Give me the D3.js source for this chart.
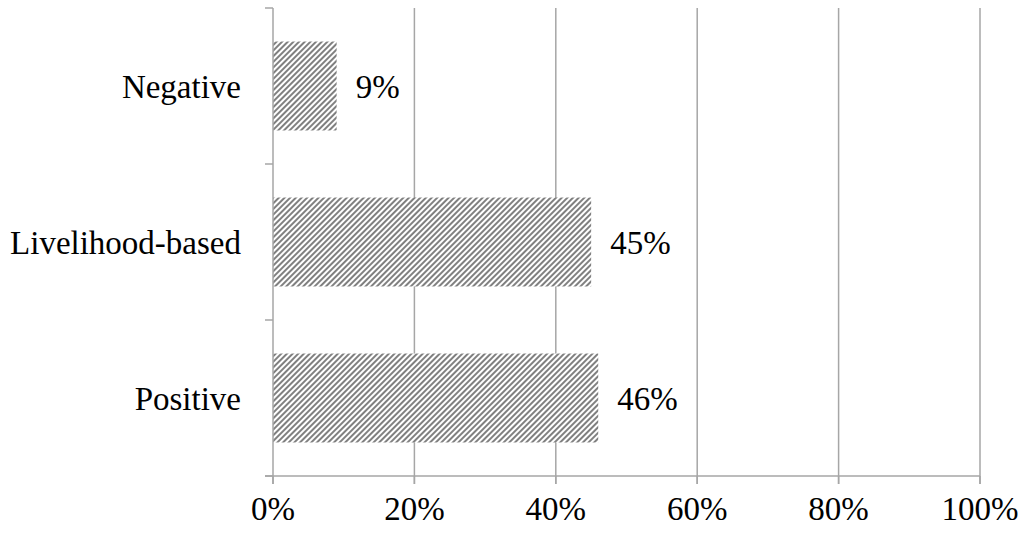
<!DOCTYPE html>
<meta charset="utf-8">
<style>
  html, body { margin:0; padding:0; overflow:hidden; background:#fff }
  text { font-family: "Liberation Serif", "Times New Roman", serif; fill:#000 }
</style>
<svg id="mainsvg" width="1024" height="533"></svg>
<script src="https://cdn.jsdelivr.net/npm/d3@7"></script>
<script>

    var categories = ["Negative", "Livelihood-based", "Positive"];
    var values = [9, 45, 46];
    var xTicks = [0, 20, 40, 60, 80, 100];

    var svg = d3.select("#mainsvg");

    var pLeft = 273, pRight = 980, pTop = 8, pBottom = 476;
    var fs = 33;

    var x = d3.scaleLinear().domain([0, 100]).range([pLeft, pRight]);
    var y = d3.scaleBand().domain(categories).range([pTop, pBottom]).paddingInner(0.43).paddingOuter(0.215);

    // hatch
    var defs = svg.append("defs");
    var pat = defs.append("pattern")
        .attr("id", "hatch")
        .attr("patternUnits", "userSpaceOnUse")
        .attr("width", 4).attr("height", 4)
        .attr("patternTransform", "rotate(45)");
    pat.append("rect").attr("width", 4).attr("height", 4).attr("fill", "#fff");
    pat.append("rect").attr("x", 0).attr("y", 0).attr("width", 2).attr("height", 4).attr("fill", "#808080");

    // gridlines
    svg.append("g").selectAll("line")
        .data(xTicks.slice(1))
        .enter().append("line")
        .attr("x1", function(d) { return x(d); })
        .attr("x2", function(d) { return x(d); })
        .attr("y1", pTop)
        .attr("y2", pBottom + 8)
        .attr("stroke", "#a6a6a6")
        .attr("stroke-width", 1.5);

    // bars
    svg.append("g").selectAll("rect")
        .data(values)
        .enter().append("rect")
        .attr("x", x(0))
        .attr("y", function(d, i) { return y(categories[i]); })
        .attr("width", function(d) { return x(d) - x(0); })
        .attr("height", y.bandwidth())
        .attr("fill", "url(#hatch)");

    // value labels
    svg.append("g").selectAll("text")
        .data(values)
        .enter().append("text")
        .attr("x", function(d) { return x(d) + 19; })
        .attr("y", function(d, i) { return y(categories[i]) + y.bandwidth() / 2; })
        .attr("dy", "0.35em")
        .attr("font-size", fs)
        .text(function(d) { return d + "%"; });

    // y axis line + ticks
    var yAxis = svg.append("g");
    yAxis.append("line")
        .attr("x1", pLeft).attr("x2", pLeft)
        .attr("y1", pTop).attr("y2", pBottom + 8)
        .attr("stroke", "#a6a6a6").attr("stroke-width", 1.5);
    var step = (pBottom - pTop) / categories.length;
    yAxis.selectAll("line.tk")
        .data(d3.range(categories.length + 1))
        .enter().append("line")
        .attr("class", "tk")
        .attr("x1", pLeft - 8).attr("x2", pLeft)
        .attr("y1", function(d) { return pTop + d * step; })
        .attr("y2", function(d) { return pTop + d * step; })
        .attr("stroke", "#a6a6a6").attr("stroke-width", 1.5);
    yAxis.selectAll("text")
        .data(categories)
        .enter().append("text")
        .attr("x", 241)
        .attr("y", function(d) { return y(d) + y.bandwidth() / 2; })
        .attr("dy", "0.35em")
        .attr("text-anchor", "end")
        .attr("font-size", fs)
        .text(function(d) { return d; });

    // x axis
    var xAxis = svg.append("g");
    xAxis.append("line")
        .attr("x1", pLeft - 8).attr("x2", pRight)
        .attr("y1", pBottom).attr("y2", pBottom)
        .attr("stroke", "#a6a6a6").attr("stroke-width", 1.5);
    xAxis.selectAll("line.tk")
        .data(xTicks)
        .enter().append("line")
        .attr("class", "tk")
        .attr("x1", function(d) { return x(d); })
        .attr("x2", function(d) { return x(d); })
        .attr("y1", pBottom).attr("y2", pBottom + 8)
        .attr("stroke", "#a6a6a6").attr("stroke-width", 1.5);
    xAxis.selectAll("text")
        .data(xTicks)
        .enter().append("text")
        .attr("x", function(d) { return x(d); })
        .attr("y", 520)
        .attr("text-anchor", "middle")
        .attr("font-size", fs)
        .text(function(d) { return d + "%"; });

</script>
